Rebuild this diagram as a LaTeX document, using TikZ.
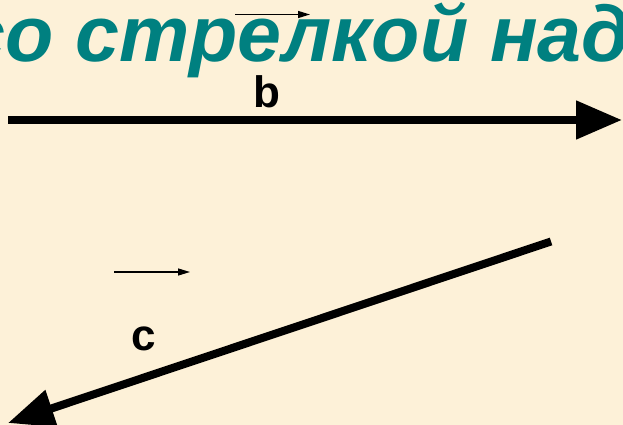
\documentclass[tikz,border=0pt]{standalone}
\usepackage{fontspec}
\setmainfont{Liberation Sans}
\usetikzlibrary{arrows.meta}
\definecolor{paper}{RGB}{253,241,216}
\definecolor{titleteal}{RGB}{0,128,128}

\begin{document}
\begin{tikzpicture}[
    x=1pt, y=-1pt,
    vec/.style={line width=8pt, -{Triangle[length=46pt, width=37pt]}},
    bar/.style={line width=1.3pt, -{Triangle[length=12pt, width=7pt]}},
    letter/.style={font=\fontsize{44}{44}\selectfont\bfseries, inner sep=0pt},
    title/.style={font=\fontsize{79}{79}\selectfont\bfseries\itshape, text=titleteal, inner sep=0pt},
]

% =============================================================================
% Background and frame
% =============================================================================
\fill[paper] (0, 0) rectangle (623, 425);
\useasboundingbox (0, 0) rectangle (623, 425);
\clip (0, 0) rectangle (623, 425);

% Title line (cut at both sides)
\node[title, anchor=base west] (title) at (-39, 61.5) {со стрелкой над};

% =============================================================================
% Vector b
% =============================================================================
\coordinate (bbar-l) at (235, 14.5);
\coordinate (bbar-r) at (310, 14.5);
\draw[bar] (bbar-l) -- (bbar-r);

\node[letter, anchor=base] (b) at (267, 107) {b};

\coordinate (b-tail) at (8, 120);
\coordinate (b-tip) at (622, 120);
\draw[vec] (b-tail) -- (b-tip);

% =============================================================================
% Vector c
% =============================================================================
\coordinate (cbar-l) at (114, 272);
\coordinate (cbar-r) at (190, 272);
\draw[bar] (cbar-l) -- (cbar-r);

\node[letter, anchor=base] (c) at (144, 350) {c};

\coordinate (c-tail) at (551, 241.5);
\coordinate (c-tip) at (8, 423);
\draw[vec] (c-tail) -- (c-tip);

\end{tikzpicture}
\end{document}
